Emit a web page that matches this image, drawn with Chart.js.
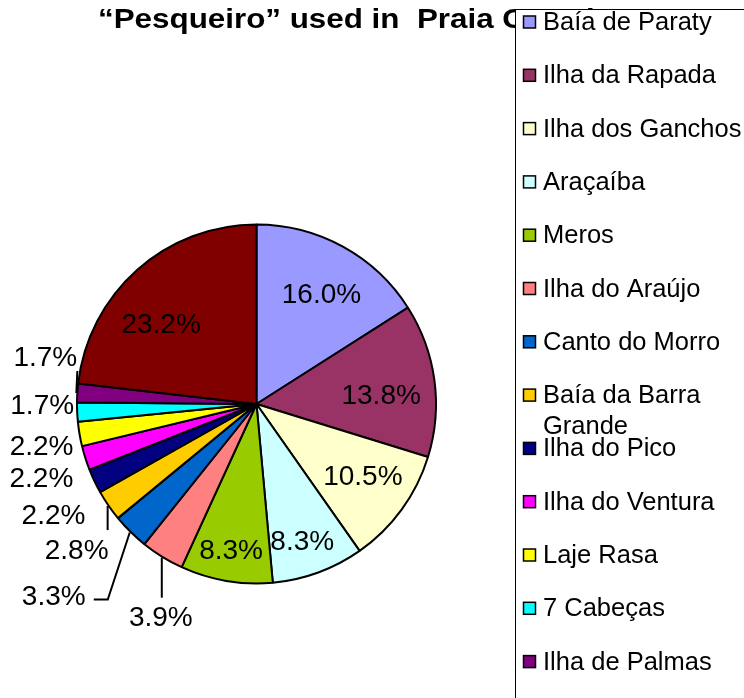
<!DOCTYPE html>
<html lang="pt">
<head>
<meta charset="utf-8"/>
<title>“Pesqueiro” used in Praia Grande</title>
<script src="https://cdn.jsdelivr.net/npm/chart.js"></script>
<style>
        html, body {
            margin: 0;
            padding: 0;
            background-color: #ffffff;
        }
        .chart-box {
            position: relative;
            width: 744px;
            height: 698px;
            overflow: hidden;
        }
    </style>
</head>
<body>
<div class="chart-box">
<canvas id="pesqueiroChart" width="744" height="698"></canvas>
</div>
<script>
        // fishing spots and their share (%)
        const spots = ['Baía de Paraty', 'Ilha da Rapada', 'Ilha dos Ganchos', 'Araçaíba', 'Meros',
            'Ilha do Araújo', 'Canto do Morro', 'Baía da Barra Grande', 'Ilha do Pico', 'Ilha do Ventura',
            'Laje Rasa', '7 Cabeças', 'Ilha de Palmas', 'Outros'];
        const shares = [16.0, 13.8, 10.5, 8.3, 8.3, 3.9, 3.3, 2.8, 2.2, 2.2, 2.2, 1.7, 1.7, 23.2];
        const sliceColors = ['#9999ff', '#993366', '#ffffcc', '#ccffff', '#99cc00',
            '#ff8080', '#0066cc', '#ffcc00', '#000080', '#ff00ff',
            '#ffff00', '#00ffff', '#800080', '#800000'];

        const chartTitle = '“Pesqueiro” used in  Praia Grande';
        const FONT = '"Liberation Sans", Arial, sans-serif';

        // nudges for the percent labels (Excel "best fit" placement), [dx, dy] from the anchor
        // anchor = inside point for big slices, rim point for small ones
        const labelNudge = [[1, 5], [-7, 8], [-1, -7], [0, 11], [-3, 14],
            [-1, 58], [-76, 62], [-31, 43], [-40, 32], [-43, 19],
            [-37, 11], [-34, -8], [-31, -37], [-7, 18]];
        // leader lines: points relative to the label centre, drawn from the rim
        const leaders = {
            5: [[1, -18]],
            6: [[54, 5], [40, 5]],
            7: [[31, -19]],
            12: [[32, 15]]
        };

        const pctLabels = {
            id: 'pctLabels',
            afterDatasetsDraw(chart) {
                const ctx = chart.ctx;
                const arcs = chart.getDatasetMeta(0).data;
                ctx.save();
                ctx.font = '28px ' + FONT;
                ctx.textAlign = 'center';
                ctx.textBaseline = 'alphabetic';
                ctx.fillStyle = '#000000';
                ctx.strokeStyle = '#000000';
                ctx.lineWidth = 2;
                arcs.forEach((arc, i) => {
                    const p = arc.getProps(['x', 'y', 'startAngle', 'endAngle', 'outerRadius'], true);
                    const mid = (p.startAngle + p.endAngle) / 2;
                    const inside = shares[i] >= 5;
                    const r = inside ? p.outerRadius * 0.74 : p.outerRadius + 1;
                    const ax = p.x + Math.cos(mid) * r;
                    const ay = p.y + Math.sin(mid) * r;
                    const lx = ax + labelNudge[i][0];
                    const ly = ay + labelNudge[i][1];
                    if (leaders[i]) {
                        ctx.beginPath();
                        ctx.moveTo(ax, ay);
                        leaders[i].forEach(pt => ctx.lineTo(lx + pt[0], ly + pt[1]));
                        ctx.stroke();
                    }
                    ctx.fillText(shares[i].toFixed(1) + '%', lx, ly + 10);
                });
                ctx.restore();
            }
        };

        function wrapWords(ctx, text, maxW) {
            const words = text.split(' ');
            const lines = [];
            let line = '';
            words.forEach(w => {
                const test = line ? line + ' ' + w : w;
                if (line && ctx.measureText(test).width > maxW) {
                    lines.push(line);
                    line = w;
                } else {
                    line = test;
                }
            });
            lines.push(line);
            return lines;
        }

        const titleAndLegend = {
            id: 'titleAndLegend',
            afterDraw(chart) {
                const ctx = chart.ctx;
                ctx.save();
                // title (bold, partly hidden by the legend box like the original)
                ctx.font = 'bold 28px ' + FONT;
                ctx.fillStyle = '#000000';
                ctx.textBaseline = 'alphabetic';
                ctx.translate(98, 28);
                ctx.scale(1.12, 1);
                ctx.fillText(chartTitle, 0, 0);
                ctx.restore();

                // legend box
                ctx.save();
                ctx.fillStyle = '#ffffff';
                ctx.strokeStyle = '#000000';
                ctx.lineWidth = 1;
                ctx.fillRect(515.5, 9.5, 300, 800);
                ctx.strokeRect(515.5, 9.5, 300, 800);

                ctx.font = '25.5px ' + FONT;
                ctx.textBaseline = 'alphabetic';
                spots.forEach((name, i) => {
                    const cy = 22 + i * 53.3;
                    ctx.fillStyle = sliceColors[i];
                    ctx.fillRect(523.5, cy - 6, 12, 12);
                    ctx.lineWidth = 1.5;
                    ctx.strokeStyle = '#000000';
                    ctx.strokeRect(523.5, cy - 6, 12, 12);
                    ctx.fillStyle = '#000000';
                    wrapWords(ctx, name, 200).forEach((ln, k) => {
                        ctx.fillText(ln, 543, cy + 8 + k * 31);
                    });
                });
                ctx.restore();
            }
        };

        const pesqueiroCtx = document.getElementById('pesqueiroChart').getContext('2d');
        const pesqueiroChart = new Chart(pesqueiroCtx, {
            type: 'pie',
            data: {
                labels: spots,
                datasets: [{
                    data: shares,
                    backgroundColor: sliceColors,
                    borderColor: '#000000',
                    borderWidth: 2
                }]
            },
            options: {
                responsive: false,
                animation: false,
                events: [],
                layout: {
                    padding: { left: 76, top: 223, right: 307, bottom: 113 }
                },
                plugins: {
                    legend: { display: false },
                    title: { display: false },
                    tooltip: { enabled: false }
                }
            },
            plugins: [pctLabels, titleAndLegend]
        });
    </script>
</body>
</html>
